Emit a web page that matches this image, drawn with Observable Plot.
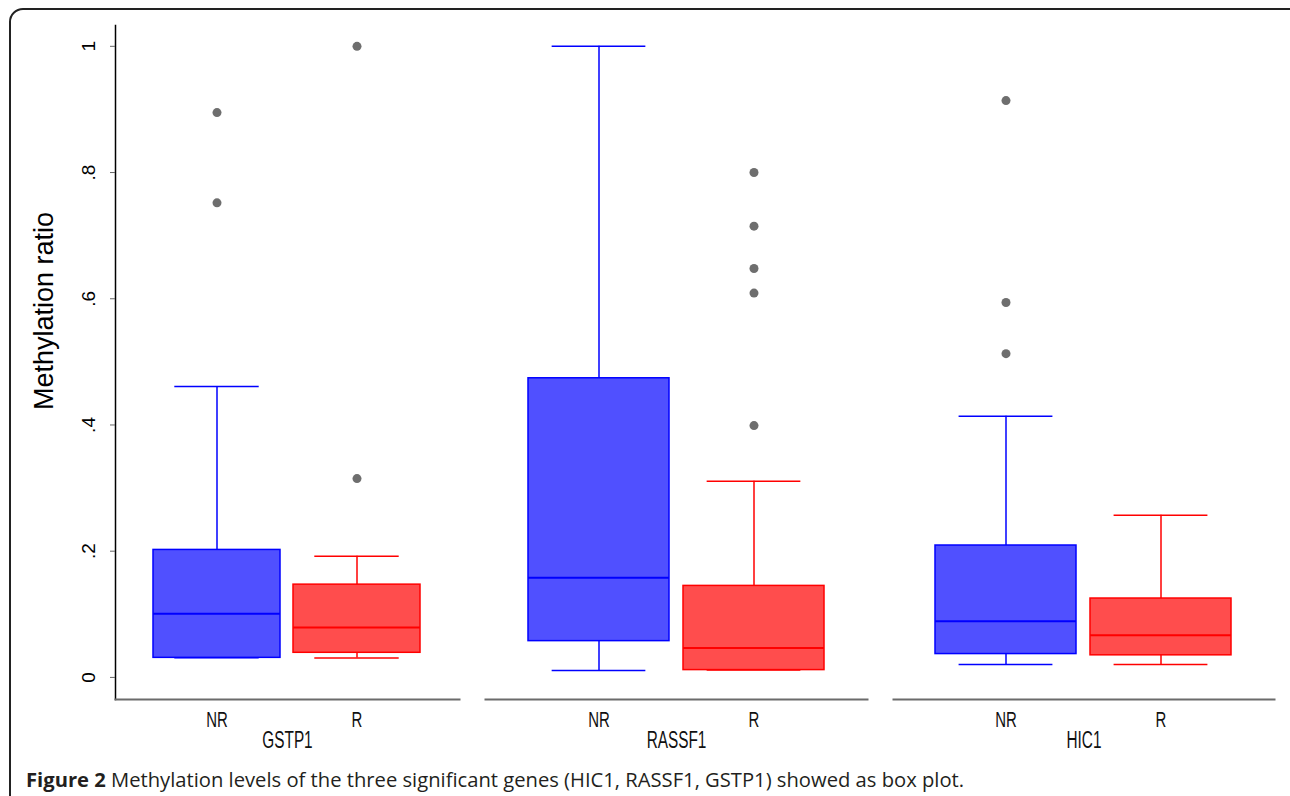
<!DOCTYPE html>
<html><head><meta charset="utf-8">
<script src="https://cdn.jsdelivr.net/npm/d3@7"></script>
<script src="https://cdn.jsdelivr.net/npm/@observablehq/plot@0.6"></script>
<style>
body{margin:0;background:#fff;}
#wrap{position:relative;width:1290px;height:796px;overflow:hidden;font-family:"Liberation Sans",Arial,sans-serif;color:#000;}
#frame{position:absolute;left:9px;top:8px;width:1400px;height:900px;border:2px solid #222;border-radius:14px;box-sizing:border-box;}
.panel{position:absolute;top:0;}
#ytitle{position:absolute;left:44px;top:311px;transform:translate(-50%,-50%) rotate(-90deg);font-size:27px;line-height:1;white-space:nowrap;}
#caption{position:absolute;left:26px;top:769px;font-family:"Open Sans",sans-serif;font-size:20.2px;line-height:20px;color:#231f20;white-space:nowrap;}
#caption b{font-weight:700;}
</style>
</head><body>
<div id="wrap">
  <div id="frame"></div>
  <div id="p0" class="panel" style="left:0px"></div>
  <div id="p1" class="panel" style="left:470px"></div>
  <div id="p2" class="panel" style="left:880px"></div>
  <div id="ytitle">Methylation ratio</div>
  <div id="caption"><b>Figure 2</b> Methylation levels of the three significant genes (HIC1, RASSF1, GSTP1) showed as box plot.</div>
</div>
<script>
// ---- data ----
const genes = ["GSTP1", "RASSF1", "HIC1"];
const groups = ["NR", "R"];
const boxGene   = ["GSTP1", "GSTP1", "RASSF1", "RASSF1", "HIC1", "HIC1"];
const boxGroup  = ["NR", "R", "NR", "R", "NR", "R"];
const whiskerLow  = [0.031, 0.0306, 0.011, 0.0116, 0.0206, 0.0206];
const q1          = [0.031, 0.039, 0.0575, 0.0116, 0.037, 0.035];
const median      = [0.101, 0.079, 0.158, 0.0465, 0.089, 0.067];
const q3          = [0.202, 0.147, 0.474, 0.145, 0.209, 0.125];
const whiskerHigh = [0.461, 0.192, 1.0, 0.311, 0.414, 0.257];
const outlierGene  = ["GSTP1", "GSTP1", "GSTP1", "GSTP1", "RASSF1", "RASSF1", "RASSF1", "RASSF1", "RASSF1", "HIC1", "HIC1", "HIC1"];
const outlierGroup = ["NR", "NR", "R", "R", "R", "R", "R", "R", "R", "NR", "NR", "NR"];
const outlierValue = [0.895, 0.752, 1.0, 0.315, 0.800, 0.715, 0.648, 0.609, 0.399, 0.914, 0.594, 0.513];
const yTicks = [0, 0.2, 0.4, 0.6, 0.8, 1];
const yTickLabels = ["0", ".2", ".4", ".6", ".8", "1"];

// ---- styles ----
const fills = {NR: "#5050ff", R: "#ff4d4d"};
const strokes = {NR: "#0000ff", R: "#ff0000"};

const boxes = boxGene.map((g, i) => ({gene: g, group: boxGroup[i], lo: whiskerLow[i], q1: q1[i], med: median[i], q3: q3[i], hi: whiskerHigh[i]}));
const outliers = outlierGene.map((g, i) => ({gene: g, group: outlierGroup[i], value: outlierValue[i]}));

const layouts = [
  {width: 470, marginLeft: 115, marginRight: 11},
  {width: 410, marginLeft: 15, marginRight: 13},
  {width: 410, marginLeft: 13, marginRight: 16}
];

function condense(svg) {
  svg.querySelectorAll("text").forEach(t => {
    const s = t.textContent;
    let k = null;
    if (groups.includes(s)) k = 0.68;
    else if (genes.includes(s)) k = 0.64;
    if (k) {
      const tr = t.getAttribute("transform") || "";
      t.setAttribute("transform", (tr + ` scale(${k},1)`).trim());
    }
  });
}

genes.forEach((gene, gi) => {
  const L = layouts[gi];
  const pi = 0.09, po = 0.27;
  const inner = L.width - L.marginLeft - L.marginRight;
  const step = inner / (2 - pi + 2 * po);
  const bw = step * (1 - pi);
  const capInset = bw / 6;
  const rows = boxes.filter(d => d.gene === gene);
  const outs = outliers.filter(d => d.gene === gene);
  const fillOf = d => fills[d.group];
  const strokeOf = d => strokes[d.group];
  const marks = [
    Plot.frame({anchor: "bottom", stroke: "#6b6b6b", strokeWidth: 2}),
    Plot.ruleX(rows, {x: "group", y1: "q3", y2: "hi", stroke: strokeOf, strokeWidth: 1.5}),
    Plot.ruleX(rows, {x: "group", y1: "lo", y2: "q1", stroke: strokeOf, strokeWidth: 1.5}),
    Plot.tickY(rows, {x: "group", y: "hi", stroke: strokeOf, strokeWidth: 1.5, insetLeft: capInset, insetRight: capInset}),
    Plot.tickY(rows, {x: "group", y: "lo", stroke: strokeOf, strokeWidth: 1.5, insetLeft: capInset, insetRight: capInset}),
    Plot.barY(rows, {x: "group", y1: "q1", y2: "q3", fill: fillOf, stroke: strokeOf, strokeWidth: 1.5}),
    Plot.tickY(rows, {x: "group", y: "med", stroke: strokeOf, strokeWidth: 2}),
    Plot.dot(outs, {x: "group", y: "value", r: 4.5, fill: "#6e6e6e", stroke: null}),
    Plot.text(rows, {x: "group", text: "group", frameAnchor: "bottom", dy: 20, fontSize: 22, lineAnchor: "middle", fill: "#111"}),
    Plot.text([gene], {text: d => d, frameAnchor: "bottom", dy: 41, fontSize: 24, lineAnchor: "middle", fill: "#111"})
  ];
  if (gi === 0) {
    marks.unshift(
      Plot.frame({anchor: "left", stroke: "#000", strokeWidth: 1.5}),
      Plot.axisY({ticks: yTicks, tickSize: 5, tickFormat: () => "", stroke: "#666", label: null}),
      Plot.text(yTicks, {y: d => d, text: (d, i) => yTickLabels[i], frameAnchor: "left", dx: -27, rotate: -90, fontSize: 19, textAnchor: "middle", lineAnchor: "middle", fill: "#000"})
    );
  }
  const chart = Plot.plot({
    width: L.width, height: 760,
    marginTop: 25, marginBottom: 61, marginLeft: L.marginLeft, marginRight: L.marginRight,
    style: {fontFamily: "'Liberation Sans', Arial, sans-serif", background: "transparent", color: "#000"},
    x: {domain: groups, paddingInner: pi, paddingOuter: po, axis: null, label: null},
    y: {domain: [-0.035, 1.033], axis: null, label: null},
    color: {type: "identity"},
    marks
  });
  condense(chart);
  document.getElementById("p" + gi).appendChild(chart);
});
</script>
</body></html>
